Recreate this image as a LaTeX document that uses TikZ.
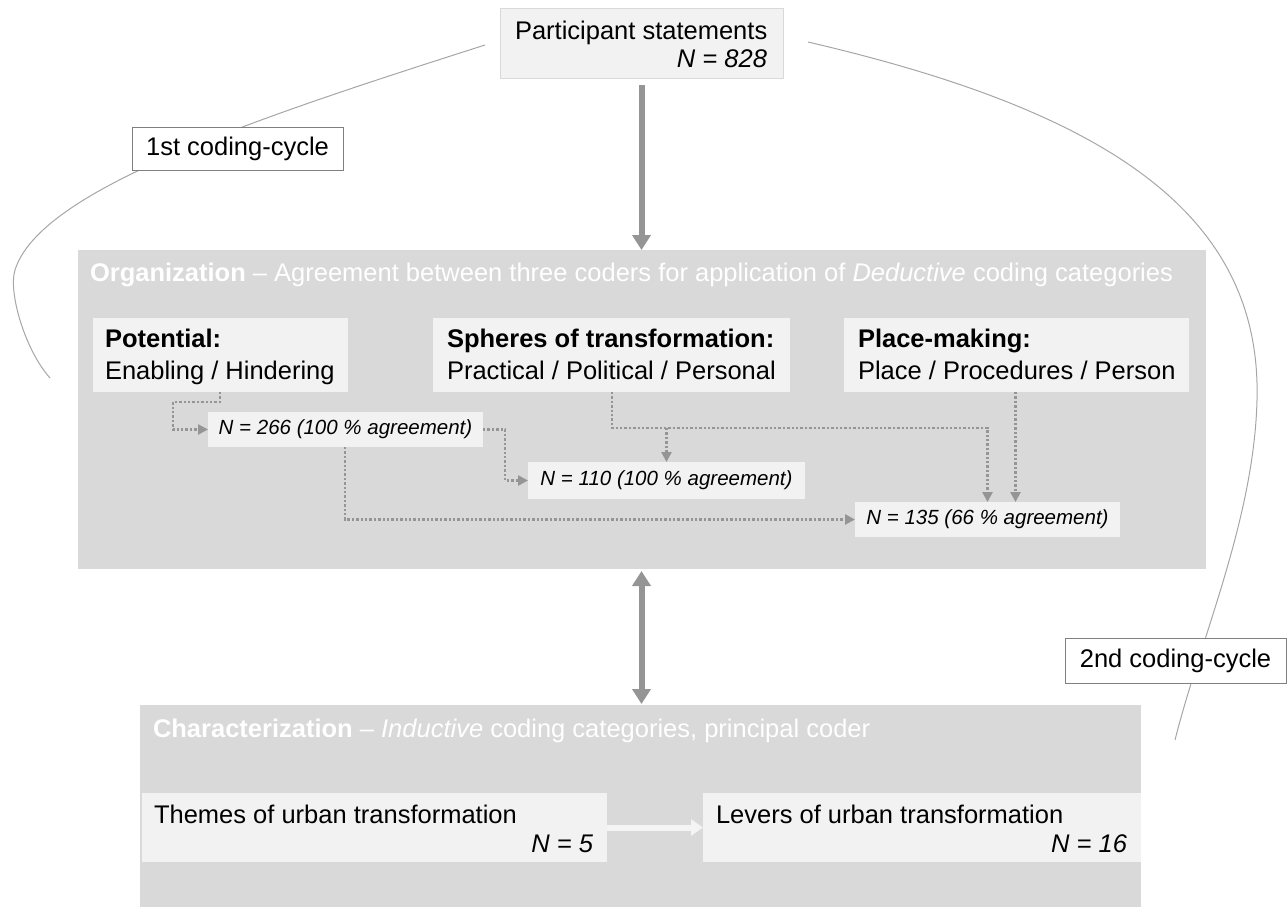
\documentclass[tikz,border=0pt]{standalone}
\usepackage{fontspec}
\setmainfont{Liberation Sans}
\usetikzlibrary{arrows.meta,calc}
\definecolor{boxgray}{HTML}{D9D9D9}
\definecolor{innergray}{HTML}{F2F2F2}
\definecolor{arrowgray}{HTML}{959595}
\definecolor{curvegray}{HTML}{A6A6A6}
\definecolor{lblborder}{HTML}{7F7F7F}
\definecolor{lightarrow}{HTML}{F4F4F4}
\newcommand\bigfont{\fontsize{25.5}{30}\selectfont}
\newcommand\smallfont{\fontsize{20.5}{24}\selectfont}
\begin{document}
\begin{tikzpicture}[x=1pt,y=-1pt,
  panel/.style={fill=boxgray,draw=none,inner sep=0pt,outer sep=0pt,anchor=north west},
  inbox/.style={fill=innergray,draw=none,inner sep=0pt,outer sep=0pt,anchor=north west},
  nbox/.style={inbox,font=\smallfont\itshape},
  txt/.style={inner sep=0pt,outer sep=0pt,font=\bigfont,anchor=base west},
  rtxt/.style={inner sep=0pt,outer sep=0pt,font=\bigfont\itshape,anchor=base east},
  head/.style={inner sep=0pt,outer sep=0pt,font=\bigfont,text=white,anchor=base west},
  lbl/.style={fill=white,draw=lblborder,line width=1pt,inner sep=0pt,outer sep=0pt,anchor=north west,font=\bigfont},
  dc/.style={draw=arrowgray,line width=2.6pt,dash pattern=on 2.4pt off 2pt,-{Triangle[length=10pt,width=10pt,fill=arrowgray]}},
  bigarrow/.style={draw=arrowgray,line width=6pt,-{Triangle[length=15pt,width=18pt]}},
  dblarrow/.style={draw=arrowgray,line width=6pt,{Triangle[length=15pt,width=18pt]}-{Triangle[length=15pt,width=18pt]}},
  lightarr/.style={draw=lightarrow,line width=6pt,-{Triangle[length=12pt,width=16pt]}},
  cycle line/.style={draw=curvegray,line width=1pt}
]
\useasboundingbox (0,0) rectangle (1287,906);

% coding-cycle curves
\coordinate (l0) at (485,45);
\coordinate (lm) at (15,270);
\coordinate (l1) at (50,378);
\coordinate (r0) at (808,42);
\coordinate (rm) at (1257,400);
\coordinate (r1) at (1175,740);
\draw[cycle line] (l0) .. controls (250,120) and (40,190) .. (lm) .. controls (8,292) and (25,350) .. (l1);
\draw[cycle line] (r0) .. controls (1100,110) and (1262,210) .. (rm) .. controls (1254,520) and (1200,640) .. (r1);

% participant statements
\node[inbox,draw=boxgray,line width=0.8pt,minimum width=283,minimum height=70] (part) at (500,8) {};
\node[txt] (partT) at (515,39) {Participant statements};
\node[rtxt] (partN) at (767,67) {N = 828};

% labels
\node[lbl,minimum width=211,minimum height=43] (c1) at (132,127) {1st coding-cycle};
\node[lbl,minimum width=221,minimum height=45] (c2) at (1065,638) {2nd coding-cycle};

% organization panel
\node[panel,minimum width=1128,minimum height=319] (org) at (78,250) {};
\node[head] (orgH) at (90,281) {\textbf{Organization} -- Agreement between three coders for application of \textit{Deductive} coding categories};

\node[inbox,minimum width=255,minimum height=74] (pot) at (93,318) {};
\node[txt] (potA) at (105,347) {\bfseries Potential:};
\node[txt] (potB) at (105,379) {Enabling / Hindering};

\node[inbox,minimum width=357,minimum height=74] (sph) at (433,318) {};
\node[txt] (sphA) at (447,347) {\bfseries Spheres of transformation:};
\node[txt] (sphB) at (447,379) {Practical / Political / Personal};

\node[inbox,minimum width=345,minimum height=74] (plc) at (844,318) {};
\node[txt] (plcA) at (858,347) {\bfseries Place-making:};
\node[txt] (plcB) at (858,379) {Place / Procedures / Person};

\node[nbox,minimum width=275,minimum height=35] (n266) at (208,412) {N = 266 (100 \% agreement)};
\node[nbox,minimum width=277,minimum height=37] (n110) at (528,462) {N = 110 (100 \% agreement)};
\node[nbox,minimum width=265,minimum height=35] (n135) at (855,502) {N = 135 (66 \% agreement)};

% dotted connectors
\draw[dc] (pot.south west) ++(127,0) -- ++(0,10) -| ([xshift=-35pt]n266.west) -- (n266.west);
\draw[dc] (n266.east) -- ++(22,0) |- (n110.west);
\draw[dc] (n266.south west) ++(137,0) |- (n135.west);
\coordinate (sphdrop) at ($(sph.south west)+(179,0)$);
\coordinate (jn) at ($(sphdrop)+(0,36)$);
\draw[dc] (sphdrop) -- (jn) -| (n135.north);
\draw[dc] (n110.north |- jn) -- (n110.north);
\coordinate (p135) at ($(n135.north)+(28,0)$);
\draw[dc] (p135 |- plc.south) -- (p135);

% big arrows
\draw[bigarrow] ([yshift=-7pt]part.south) -- (org.north -| part.south);

% characterization panel
\node[panel,minimum width=1001,minimum height=202] (chr) at (140,705) {};
\node[head] (chrH) at (153,737) {\textbf{Characterization} -- \textit{Inductive} coding categories, principal coder};

\draw[dblarrow] ([yshift=-2pt]org.south -| part.south) -- ([yshift=1pt]chr.north -| part.south);

\node[inbox,minimum width=465,minimum height=69] (thm) at (142,793) {};
\node[txt] (thmA) at (154,823) {Themes of urban transformation};
\node[rtxt] (thmN) at (593,852) {N = 5};

\node[inbox,minimum width=438,minimum height=69] (lev) at (703,793) {};
\node[txt] (levA) at (716,823) {Levers of urban transformation};
\node[rtxt] (levN) at (1127,852) {N = 16};

\draw[lightarr] (thm.east) -- (lev.west);
\end{tikzpicture}
\end{document}
